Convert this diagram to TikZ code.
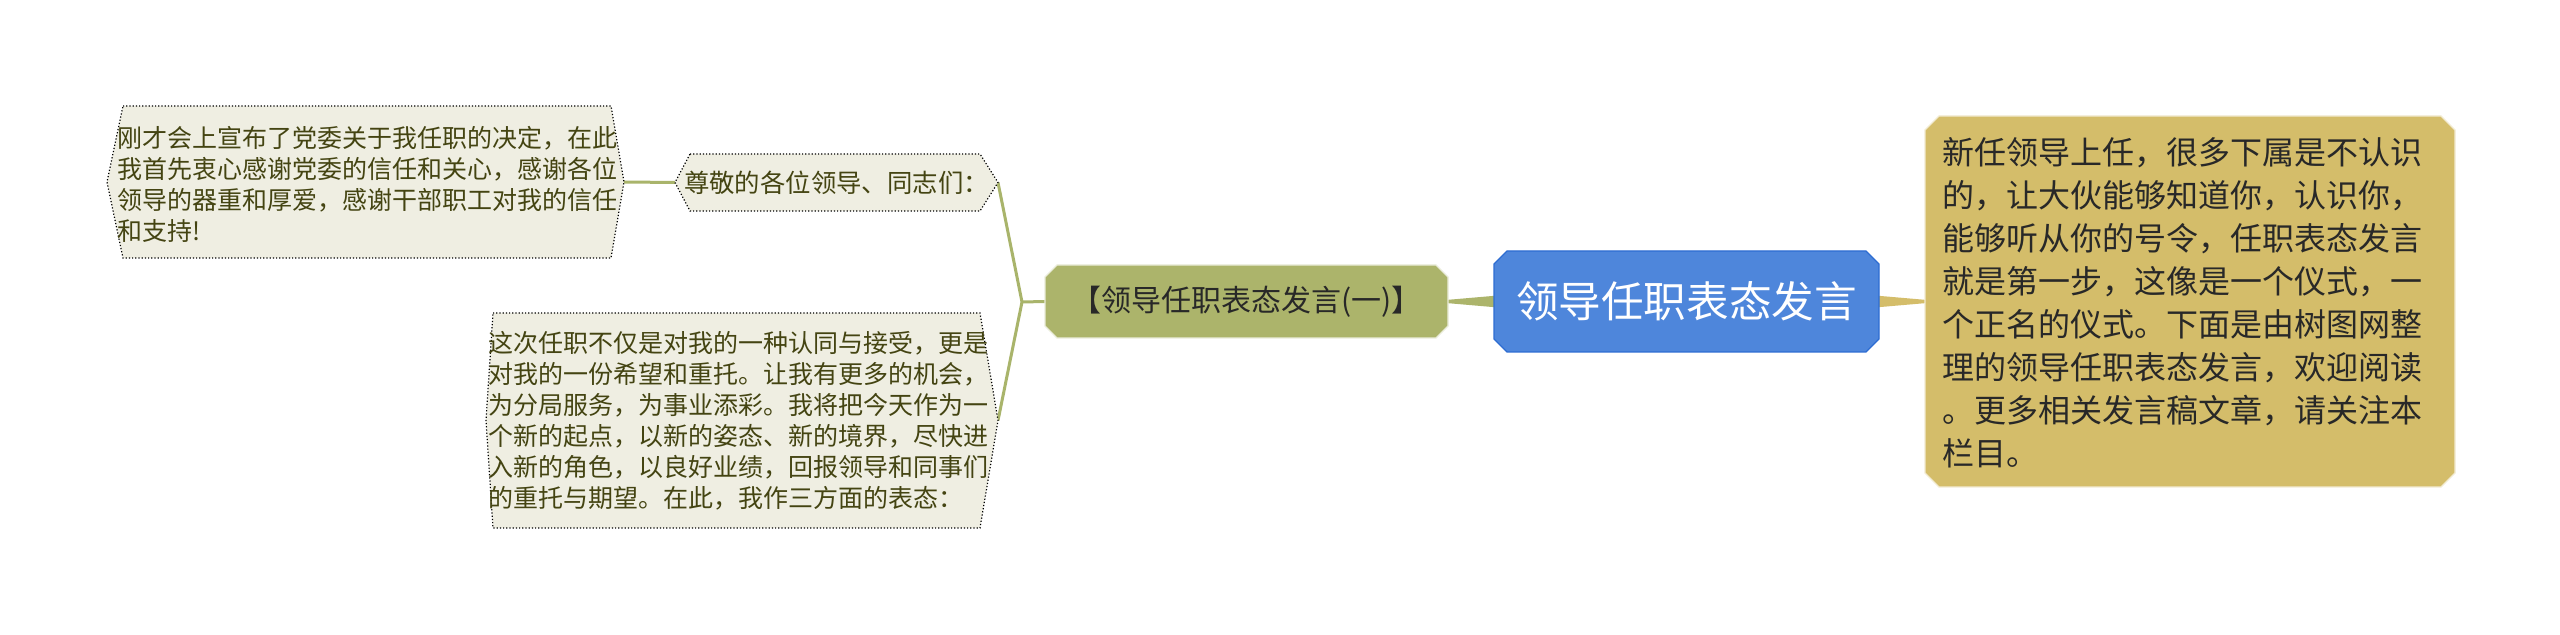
\documentclass[tikz,border=0pt]{standalone}
\usepackage{fontspec}
\setmainfont{Noto Sans CJK SC}
\usetikzlibrary{calc}
\definecolor{leaffill}{RGB}{239,238,226}
\definecolor{leaftext}{RGB}{68,68,18}
\definecolor{branchgreen}{RGB}{172,180,107}
\definecolor{linegreen}{RGB}{169,180,107}
\definecolor{rootblue}{RGB}{78,134,219}
\definecolor{rootedge}{RGB}{45,108,210}
\definecolor{goldfill}{RGB}{212,189,106}
\definecolor{darktext}{RGB}{40,40,40}
\begin{document}
\begin{tikzpicture}[x=0.5pt,y=-0.5pt,
  frame/.style 2 args={inner sep=0pt,outer sep=0pt,minimum width=#1,minimum height=#2},
  oct/.style 2 args={insert path={($(#1.north west)+(#2,0)$) -- ($(#1.north east)+(-#2,0)$) -- ($(#1.north east)+(0,#2)$) -- ($(#1.south east)+(0,-#2)$) -- ($(#1.south east)+(-#2,0)$) -- ($(#1.south west)+(#2,0)$) -- ($(#1.south west)+(0,-#2)$) -- ($(#1.north west)+(0,#2)$) -- cycle}},
  hex/.style n args={3}{insert path={($(#1.north west)+(#2,0)$) -- ($(#1.north east)+(-#3,0)$) -- (#1.east) -- ($(#1.south east)+(-#3,0)$) -- ($(#1.south west)+(#2,0)$) -- (#1.west) -- cycle}},
  leafshape/.style={fill=leaffill,draw=black,densely dotted,line width=0.6pt},
  leaftxt/.style={font=\fontsize{12.5pt}{15.5pt}\selectfont,text=leaftext,align=left,inner sep=0pt,text width=300pt},
  link/.style={draw=linegreen,line width=1.5pt,line join=round},
]
\useasboundingbox (0,0) rectangle (2560,635);
\fill[white] (0,0) rectangle (2560,635);

% frames
\node[frame={258.5pt}{76pt}] (leaf1) at (365.5,182) {};
\node[frame={161.5pt}{28.5pt}] (z1) at (836.5,182.5) {};
\node[frame={256pt}{107.5pt}] (leaf2) at (742,420.5) {};
\node[frame={201.5pt}{36.5pt}] (gn) at (1246.5,301.5) {};
\node[frame={192.5pt}{50.5pt}] (root) at (1686.5,301.5) {};
\node[frame={265pt}{185.5pt}] (gold) at (2190,301.5) {};
\coordinate (junc) at (1022,302);

% connectors
\fill[branchgreen] ($(root.west)+(4,-6)$) -- ($(root.west)+(4,6)$) -- ($(gn.east)+(-2,1.5)$) -- ($(gn.east)+(-2,-1.5)$) -- cycle;
\fill[goldfill] ($(root.east)+(-4,-6)$) -- ($(root.east)+(-4,6)$) -- ($(gold.west)+(2,1.5)$) -- ($(gold.west)+(2,-1.5)$) -- cycle;
\draw[link] (gn.west) -- (junc) -- (z1.east);
\draw[link] (junc) -- (leaf2.east);
\draw[link] (z1.west) -- (leaf1.east);

% shapes
\path[leafshape] [hex={leaf1}{16}{13}];
\path[leafshape] [hex={z1}{15}{18}];
\path[leafshape] [hex={leaf2}{7}{18}];
\path[fill=branchgreen,draw=white!75!branchgreen,line width=0.6pt] [oct={gn}{12}];
\path[fill=rootblue,draw=rootedge,line width=0.6pt] [oct={root}{13}];
\path[fill=goldfill,draw=white!70!goldfill,line width=0.6pt] [oct={gold}{14}];

% texts
\node[leaftxt,anchor=base west] (t-leaf1) at (117,148) {刚才会上宣布了党委关于我任职的决定，在此\\我首先衷心感谢党委的信任和关心，感谢各位\\领导的器重和厚爱，感谢干部职工对我的信任\\和支持!};
\node[font=\fontsize{12.7pt}{15pt}\selectfont,text=leaftext,inner sep=0pt] (t-z1) at (836.5,182.5) {尊敬的各位领导、同志们：};
\node[leaftxt,anchor=base west] (t-leaf2) at (488,353) {这次任职不仅是对我的一种认同与接受，更是\\对我的一份希望和重托。让我有更多的机会，\\为分局服务，为事业添彩。我将把今天作为一\\个新的起点，以新的姿态、新的境界，尽快进\\入新的角色，以良好业绩，回报领导和同事们\\的重托与期望。在此，我作三方面的表态：};
\node[font=\fontsize{15pt}{18pt}\selectfont,text=darktext,inner sep=0pt] (t-gn) at (1246.5,301.5) {【领导任职表态发言(一)】};
\node[font=\fontsize{21.3pt}{25pt}\selectfont,text=white,inner sep=0pt] (t-root) at (1686.5,301.5) {领导任职表态发言};
\node[font=\fontsize{16pt}{21.5pt}\selectfont,text=darktext,align=left,inner sep=0pt,text width=300pt,anchor=base west] (t-gold) at (1942,165) {新任领导上任，很多下属是不认识\\的，让大伙能够知道你，认识你，\\能够听从你的号令，任职表态发言\\就是第一步，这像是一个仪式，一\\个正名的仪式。下面是由树图网整\\理的领导任职表态发言，欢迎阅读\\。更多相关发言稿文章，请关注本\\栏目。};
\end{tikzpicture}
\end{document}
